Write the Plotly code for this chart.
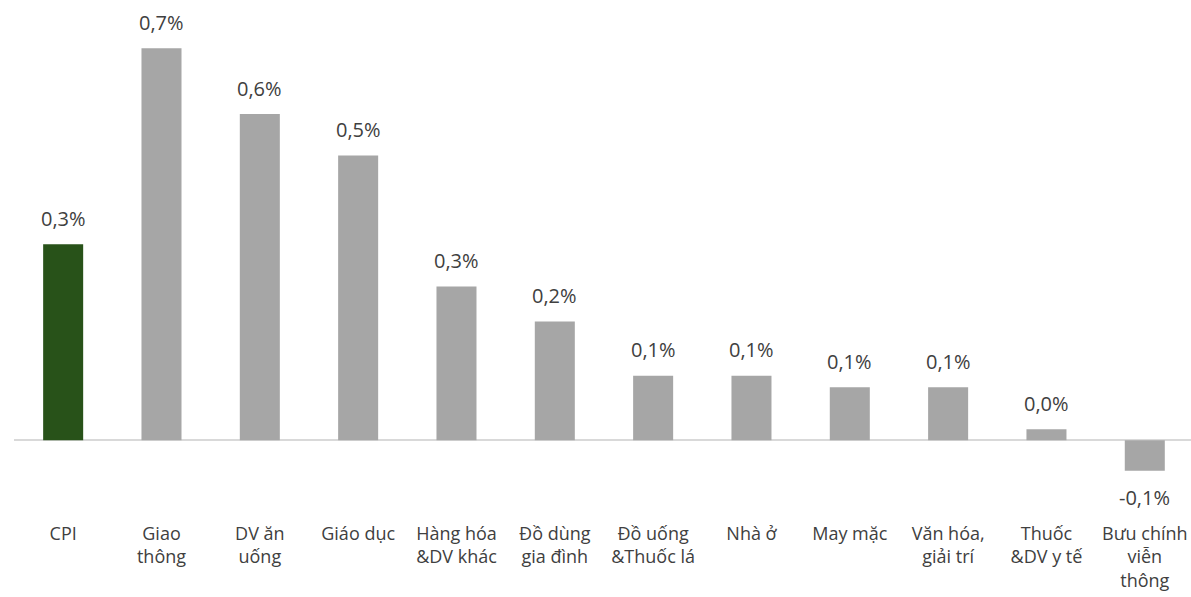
import plotly.graph_objects as go

# Monthly change by commodity group (%)
categories = [
    "CPI", "Giao<br>thông", "DV ăn<br>uống", "Giáo dục", "Hàng hóa<br>&DV khác",
    "Đồ dùng<br>gia đình", "Đồ uống<br>&Thuốc lá", "Nhà ở", "May mặc",
    "Văn hóa,<br>giải trí", "Thuốc<br>&DV y tế", "Bưu chính<br>viễn<br>thông",
]
values = [0.34, 0.68, 0.566, 0.494, 0.267, 0.206, 0.112, 0.112, 0.092, 0.092, 0.019, -0.053]

GREEN = "#285219"
GREY = "#a6a6a6"
TEXT = "#404040"
colors = [GREEN] + [GREY] * (len(values) - 1)

x_idx = list(range(len(categories)))

fig = go.Figure(
    go.Bar(
        x=x_idx,
        y=values,
        marker=dict(color=colors, line=dict(width=0)),
        hoverinfo="skip",
    )
)

# Value labels above (or below for negatives) each bar
for i, v in enumerate(values):
    label = f"{v:.1f}".replace(".", ",") + "%"
    fig.add_annotation(
        x=i, y=v, text=label, showarrow=False,
        yanchor="middle", yshift=26 if v >= 0 else -27,
        font=dict(family="Open Sans", size=20, color=TEXT),
    )

fig.update_layout(
    width=1191, height=597,
    margin=dict(l=14, r=0, t=8, b=76, autoexpand=False),
    paper_bgcolor="white", plot_bgcolor="white",
    bargap=0.593,
    showlegend=False,
    font=dict(family="Open Sans", color=TEXT),
    xaxis=dict(
        tickmode="array", tickvals=x_idx, ticktext=categories,
        range=[-0.5, 11.47], showgrid=False, showline=False, zeroline=False,
        ticks="", tickfont=dict(size=18, color=TEXT), automargin=False,
        fixedrange=True,
    ),
    yaxis=dict(
        range=[-0.14, 0.75], showgrid=False, showticklabels=False,
        zeroline=True, zerolinecolor="#d9d9d9", zerolinewidth=1.5,
        showline=False, ticks="", automargin=False, fixedrange=True,
    ),
)

fig.write_html("out.html")
